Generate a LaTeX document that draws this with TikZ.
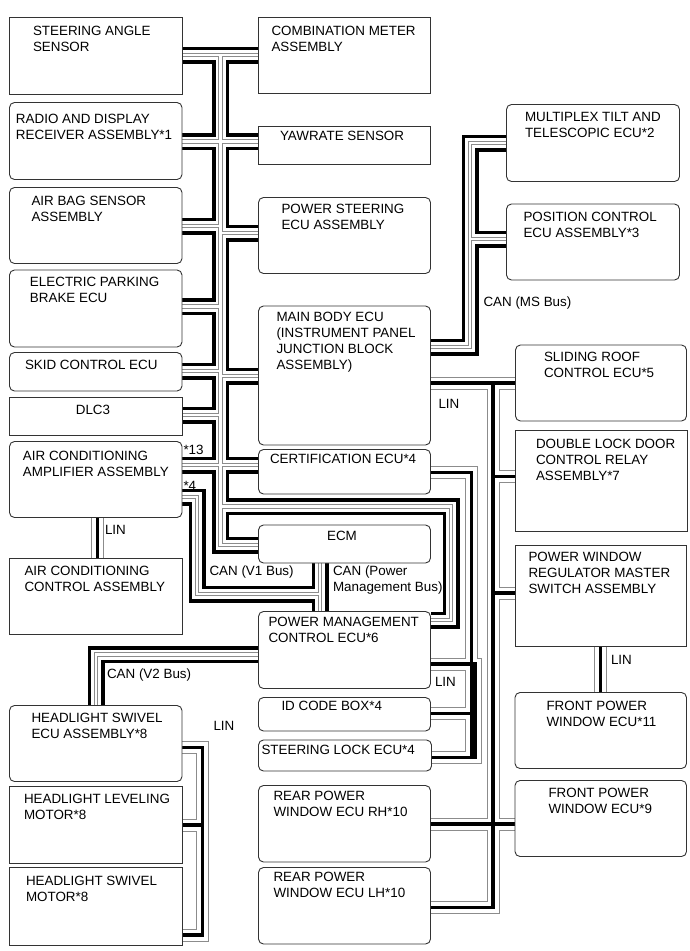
\documentclass[tikz,border=0pt]{standalone}
\usepackage{fontspec}
\setmainfont{Liberation Sans}
\newcommand\tl[1]{\begin{tabular}[t]{@{}l@{}}#1\end{tabular}}
\newcommand\mybox[6]{\node[#2, anchor=north west, inner sep=0pt, outer sep=0pt, minimum width=#5pt-#3pt, minimum height=#6pt-#4pt] (#1) at (#3,#4) {};}
\begin{document}
\begin{tikzpicture}[x=1pt,y=-1pt,
  box/.style={draw=black!80, line width=0.9pt, fill=white},
  rbox/.style={box, rounded corners=5pt},
  txt/.style={anchor=base west, inner sep=0pt, outer sep=0pt, font=\fontsize{13.4}{16}\selectfont},
  ctxt/.style={txt, anchor=base}]
\useasboundingbox (0,0) rectangle (689,951);
\fill[white] (0,0) rectangle (689,951);
% ---------------- CAN lines (black / white-pair / black)
\foreach \lw/\lc in {17/black, 10/white, 4.6/black!45, 2.4/white}{
 \draw[line width=\lw pt, draw=\lc]
  (182,55) -- (259,55)
  (220.5,55) -- (220.5,545) -- (259,545)
  (182,141.5) -- (259,141.5)
  (182,226) -- (220.5,226)
  (220.5,233) -- (259,233)
  (182,306.5) -- (220.5,306.5)
  (182,371) -- (220.5,371)
  (220.5,376) -- (259,376)
  (182,415) -- (220.5,415)
  (182,465) -- (259,465)
  (220.5,506.5) -- (451,506.5) -- (451,620) -- (430.5,620)
  (430.5,347) -- (470,347) -- (470,143) -- (506.5,143)
  (470,239) -- (506.5,239)
  (182,497) -- (197,497) -- (197,594) -- (320,594)
  (320,563) -- (320,611.5)
  (258.5,654.5) -- (96,654.5) -- (96,705.5);
}
% ---------------- LIN lines (black core with grey outline)
\foreach \lw/\lc in {13/black!45, 11/white, 3.5/black}{
 \draw[line width=\lw pt, draw=\lc]
  (430.5,383) -- (515.5,383)
  (493,383) -- (493,907.5) -- (430.5,907.5)
  (493,476.5) -- (515.5,476.5)
  (493,593) -- (515.5,593)
  (430.5,824) -- (515,824)
  (600.5,646) -- (600.5,692.5)
  (97.5,517.5) -- (97.5,558.5)
  (182,747.5) -- (202.5,747.5) -- (202.5,935) -- (182,935)
  (182,825) -- (202.5,825)
  (430.5,472.5) -- (471.5,472.5) -- (471.5,757.5) -- (431.5,757.5)
  (430.5,713.5) -- (471.5,713.5)
  (430.5,664) -- (475,664) -- (475,757.5) -- (431.5,757.5);
}
% ---------------- boxes
\mybox{steer}{box}{9.5}{17.5}{182}{94}
\mybox{radio}{rbox}{9.5}{102.5}{182}{179.5}
\mybox{airbag}{rbox}{9.5}{187.5}{182}{263.5}
\mybox{epb}{rbox}{9.5}{270}{182}{347}
\mybox{skid}{rbox}{9.5}{352.5}{182}{391}
\mybox{dlc}{box}{9.5}{397.5}{182}{435}
\mybox{acamp}{rbox}{9.5}{441.5}{182}{517.5}
\mybox{acctl}{box}{9.5}{558.5}{182}{634}
\mybox{hlecu}{rbox}{9.5}{705.5}{182}{781.5}
\mybox{hllev}{box}{9.5}{786.5}{182}{863.5}
\mybox{hlsw}{box}{9.5}{867.5}{182}{945}
\mybox{combo}{box}{258.5}{17.5}{430.5}{93.5}
\mybox{yaw}{box}{258.5}{126}{430.5}{164}
\mybox{ps}{rbox}{258.5}{197.5}{430.5}{273.5}
\mybox{mbody}{rbox}{258.5}{306}{430.5}{445}
\mybox{cert}{rbox}{258.5}{449.5}{430.5}{494}
\mybox{ecm}{rbox}{258.5}{525}{430.5}{563}
\mybox{pm}{rbox}{258.5}{611.5}{430.5}{688.5}
\mybox{idb}{rbox}{258.5}{697.5}{430.5}{731}
\mybox{slock}{rbox}{258.5}{740}{431.5}{771}
\mybox{rrh}{rbox}{258.5}{785.5}{430.5}{862}
\mybox{rlh}{rbox}{258.5}{867.5}{430.5}{944}
\mybox{mtilt}{rbox}{506.5}{104.5}{679.5}{181.5}
\mybox{posc}{rbox}{506.5}{204}{679.5}{280}
\mybox{sroof}{rbox}{515.5}{345}{686.5}{421}
\mybox{dlock}{box}{515.5}{430}{687}{531.5}
\mybox{pwreg}{box}{515.5}{545}{686.5}{646}
\mybox{fpwa}{rbox}{515}{692.5}{686.5}{768.5}
\mybox{fpwb}{rbox}{515}{780.5}{686.5}{856.5}
% ---------------- box texts
\node[txt] (steerT) at (33,35) {\tl{STEERING ANGLE\\SENSOR}};
\node[txt] (radioT) at (16,123) {\tl{RADIO AND DISPLAY\\RECEIVER ASSEMBLY*1}};
\node[txt] (airbagT) at (31.5,205) {\tl{AIR BAG SENSOR\\ASSEMBLY}};
\node[txt] (epbT) at (30,286) {\tl{ELECTRIC PARKING\\BRAKE ECU}};
\node[txt] (skidT) at (25,369) {SKID CONTROL ECU};
\node[ctxt] (dlcT) at (93,414) {DLC3};
\node[txt] (acampT) at (23,460) {\tl{AIR CONDITIONING\\AMPLIFIER ASSEMBLY}};
\node[txt] (acctlT) at (24.5,575) {\tl{AIR CONDITIONING\\CONTROL ASSEMBLY}};
\node[txt] (hlecuT) at (31.5,722.5) {\tl{HEADLIGHT SWIVEL\\ECU ASSEMBLY*8}};
\node[txt] (hllevT) at (24,803) {\tl{HEADLIGHT LEVELING\\MOTOR*8}};
\node[txt] (hlswT) at (26,885) {\tl{HEADLIGHT SWIVEL\\MOTOR*8}};
\node[txt] (comboT) at (271.5,35) {\tl{COMBINATION METER\\ASSEMBLY}};
\node[txt] (yawT) at (280,140) {YAWRATE SENSOR};
\node[txt] (psT) at (281.5,213) {\tl{POWER STEERING\\ECU ASSEMBLY}};
\node[txt] (mbodyT) at (276.5,321.5) {\tl{MAIN BODY ECU\\(INSTRUMENT PANEL\\JUNCTION BLOCK\\ASSEMBLY)}};
\node[txt] (certT) at (270,463.5) {CERTIFICATION ECU*4};
\node[ctxt] (ecmT) at (342,540.5) {ECM};
\node[txt] (pmT) at (268.5,626.5) {\tl{POWER MANAGEMENT\\CONTROL ECU*6}};
\node[txt] (idbT) at (281.5,710.5) {ID CODE BOX*4};
\node[txt] (slockT) at (261.5,754) {STEERING LOCK ECU*4};
\node[txt] (rrhT) at (273.5,800) {\tl{REAR POWER\\WINDOW ECU RH*10}};
\node[txt] (rlhT) at (273.5,881.5) {\tl{REAR POWER\\WINDOW ECU LH*10}};
\node[txt] (mtiltT) at (525,121.5) {\tl{MULTIPLEX TILT AND\\TELESCOPIC ECU*2}};
\node[txt] (poscT) at (523.5,221.5) {\tl{POSITION CONTROL\\ECU ASSEMBLY*3}};
\node[txt] (sroofT) at (544,361.5) {\tl{SLIDING ROOF\\CONTROL ECU*5}};
\node[txt] (dlockT) at (536,448.5) {\tl{DOUBLE LOCK DOOR\\CONTROL RELAY\\ASSEMBLY*7}};
\node[txt] (pwregT) at (528.5,561.5) {\tl{POWER WINDOW\\REGULATOR MASTER\\SWITCH ASSEMBLY}};
\node[txt] (fpwaT) at (546.5,710) {\tl{FRONT POWER\\WINDOW ECU*11}};
\node[txt] (fpwbT) at (548.5,797.5) {\tl{FRONT POWER\\WINDOW ECU*9}};
% ---------------- line labels
\node[txt] (msL) at (483.5,306.5) {CAN (MS Bus)};
\node[txt] (linA) at (438.5,408.5) {LIN};
\node[txt] (s13) at (183.5,454.5) {*13};
\node[txt] (s4) at (183.5,490) {*4};
\node[txt] (linB) at (105,534) {LIN};
\node[txt] (v1L) at (209.5,575) {CAN (V1 Bus)};
\node[txt] (pmbL) at (333,575) {\tl{CAN (Power\\Management Bus)}};
\node[txt] (v2L) at (107,678.5) {CAN (V2 Bus)};
\node[txt] (linC) at (435,686) {LIN};
\node[txt] (linD) at (611,664) {LIN};
\node[txt] (linE) at (213.5,730.5) {LIN};
\end{tikzpicture}
\end{document}
